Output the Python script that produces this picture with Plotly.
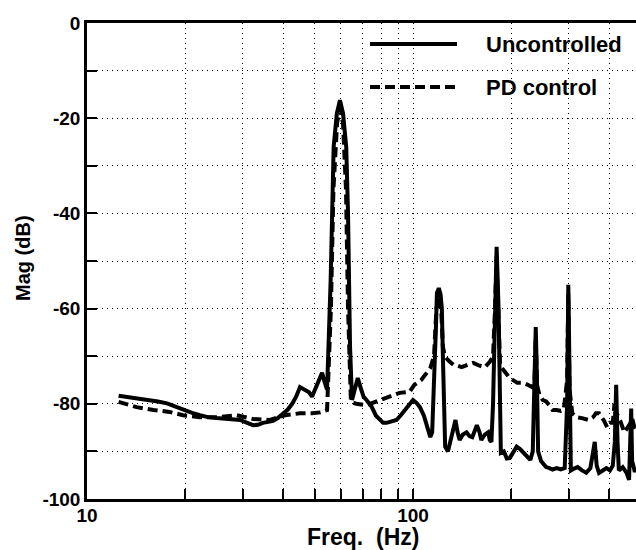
import plotly.graph_objects as go

# ---------------- data ----------------
freq_unc = [12.5, 13.5, 14.5, 15.6, 16.5, 17.6, 19.0, 20.0, 21.0, 22.2, 23.5, 25.0, 27.0, 29.5,
            31.0, 32.3, 33.5, 34.6, 36.0, 37.2, 38.5, 40.0, 41.3, 42.6, 43.8, 45.0, 46.5, 48.0,
            49.0, 50.5, 51.5, 52.6, 53.6, 54.5, 55.9, 56.3, 57.1, 58.4, 59.7, 61.0, 62.4, 63.2,
            63.7, 64.1, 65.0, 66.2, 67.7, 69.0, 70.5, 72.0, 74.5, 77.0, 79.0, 81.0, 83.0, 86.0,
            89.0, 92.0, 95.0, 97.6, 100.0, 102.5, 105.0, 108.0, 111.0, 113.0, 114.5, 115.5, 117.0,
            117.6, 118.4, 120.0, 121.5, 122.6, 123.5, 124.5, 125.5, 128.0, 131.0, 135.0, 137.0,
            139.0, 142.0, 146.0, 149.0, 152.0, 155.0, 157.0, 160.0, 162.0, 166.0, 170.0, 172.0,
            174.0, 176.0, 178.0, 180.5, 183.0, 185.0, 186.0, 190.0, 194.0, 198.0, 203.0, 208.0,
            213.0, 218.0, 224.0, 229.0, 233.0, 235.0, 238.0, 240.0, 242.0, 247.0, 252.0, 256.0,
            262.0, 268.0, 276.0, 284.0, 292.0, 297.0, 299.5, 302.0, 305.0, 312.0, 320.0, 330.0,
            340.0, 350.0, 356.0, 361.0, 366.0, 372.0, 382.0, 392.0, 402.0, 410.0, 416.0, 420.0,
            424.0, 428.0, 440.0, 452.0, 460.0, 464.0, 467.0, 470.0, 478.0, 490.0]
mag_unc = [-78.3, -78.6, -78.9, -79.2, -79.5, -79.9, -80.8, -81.3, -81.9, -82.4, -82.8, -83.0, -83.2, -83.4,
           -84.0, -84.5, -84.4, -84.0, -83.8, -83.6, -83.0, -82.0, -81.2, -80.0, -78.5, -76.5, -77.0, -77.6,
           -78.5, -76.5, -74.8, -73.5, -75.5, -77.0, -54.0, -40.0, -26.0, -19.0, -16.2, -19.0, -26.0, -40.0,
           -54.0, -68.0, -79.2, -77.0, -74.6, -76.5, -78.5, -79.2, -80.5, -82.5, -83.4, -84.0, -84.0, -83.6,
           -83.4, -82.3, -81.2, -80.3, -79.2, -79.8, -80.7, -82.5, -85.5, -87.0, -86.0, -80.0, -70.8,
           -63.9, -56.7, -55.7, -57.0, -60.0, -70.0, -80.0, -89.0, -90.0, -87.0, -83.4, -86.0,
           -87.6, -86.5, -86.0, -86.8, -87.0, -85.5, -84.5, -86.0, -87.6, -86.5, -86.0, -87.6,
           -88.0, -80.0, -60.0, -47.0, -60.0, -80.0, -90.3, -90.0, -91.5, -91.4, -90.0, -89.0,
           -89.5, -90.2, -91.2, -91.8, -90.0, -75.0, -63.9, -75.0, -90.0, -92.0, -92.6, -93.3,
           -93.5, -93.8, -93.5, -93.8, -93.5, -80.0, -55.0, -80.0, -94.0, -93.6, -93.3, -94.0,
           -94.5, -93.5, -91.0, -88.0, -93.0, -94.5, -94.0, -93.5, -94.0, -93.0, -88.0, -76.0,
           -88.0, -94.0, -93.3, -94.5, -96.0, -88.0, -81.0, -92.0, -94.0, -94.0]

freq_pd = [12.5, 14.2, 16.0, 17.9, 19.7, 22.2, 25.0, 28.8, 32.3, 36.4, 40.5, 45.0, 49.0, 52.0,
           54.5, 56.0, 57.0, 58.5, 59.7, 61.0, 62.3, 63.2, 64.5, 67.0, 72.0, 79.0, 86.7, 91.0,
           97.6, 101.0, 106.0, 110.0, 113.0, 116.0, 118.0, 120.0, 122.0, 123.5, 125.5, 129.0,
           133.0, 137.0, 141.0, 147.0, 153.0, 160.0, 166.0, 172.0, 176.0, 178.5, 180.5, 182.5,
           185.0, 190.0, 198.0, 209.0, 217.0, 225.0, 232.0, 236.0, 238.0, 240.0, 244.0, 250.0,
           256.0, 262.0, 268.0, 276.0, 284.0, 290.0, 297.0, 299.5, 302.0, 308.0, 317.0, 330.0,
           346.0, 357.0, 364.0, 372.0, 385.0, 394.0, 402.0, 410.0, 415.0, 418.0, 425.0, 432.0,
           438.0, 445.0, 455.0, 465.0, 470.0, 478.0, 490.0]
mag_pd = [-79.6, -80.7, -81.3, -81.7, -82.4, -82.8, -82.8, -82.4, -83.2, -83.4, -82.4, -82.0, -82.0, -81.8,
          -81.3, -60.0, -35.0, -21.0, -18.0, -21.0, -35.0, -60.0, -79.6, -80.0, -80.3, -79.2, -78.2, -77.7,
          -77.5, -76.0, -75.0, -73.5, -72.5, -70.0, -60.0, -57.5, -60.0, -68.0, -70.2, -71.0,
          -71.8, -72.0, -72.3, -71.8, -71.4, -72.0, -72.3, -71.2, -70.0, -60.0, -49.0, -60.0,
          -72.0, -73.0, -74.6, -75.6, -75.6, -76.0, -76.5, -75.0, -66.0, -76.0, -78.0, -79.2,
          -79.5, -80.3, -81.3, -81.3, -81.5, -81.3, -75.0, -57.0, -77.0, -82.0, -82.8, -83.0,
          -83.4, -82.8, -82.0, -82.0, -83.5, -84.9, -84.0, -84.0, -80.0, -83.0, -82.5, -83.5,
          -84.5, -86.0, -85.0, -84.0, -83.0, -85.0, -86.0]

series_names = ["Uncontrolled", "PD control"]
y_major = [0, -20, -40, -60, -80, -100]
y_major_text = ["0", "-20", "-40", "-60", "-80", "-100"]
y_minor = [-10, -30, -50, -70, -90]
x_major = [10, 100]
x_major_text = ["10", "100"]
x_minor = [20, 30, 40, 50, 60, 70, 80, 90, 200, 300, 400]

# ---------------- figure ----------------
W, H = 636, 550
L, R, T, B = 87, 0, 23, 51
pw, ph = W - L - R, H - T - B

def px(x):
    return (x - L) / pw

def py(y):
    return (H - B - y) / ph

LW = 4
fig = go.Figure()
fig.add_trace(go.Scatter(x=freq_unc, y=mag_unc, mode="lines", name=series_names[0],
                         line=dict(color="black", width=LW)))
fig.add_trace(go.Scatter(x=freq_pd, y=mag_pd, mode="lines", name=series_names[1],
                         line=dict(color="black", width=LW, dash="10px,5px")))

grid = dict(gridcolor="black", gridwidth=1, griddash="1px,4px")
fig.update_xaxes(type="log", range=[1, 1 + pw / 326.0],
                 tickvals=x_major, ticktext=x_major_text,
                 ticks="inside", ticklen=10, tickwidth=2, tickcolor="black",
                 showline=True, linewidth=2.5, linecolor="black", mirror=True,
                 showgrid=True, ticklabelstandoff=-3,
                 minor=dict(tickvals=x_minor, ticks="inside", ticklen=10, tickwidth=2,
                            tickcolor="black", showgrid=True, **grid),
                 **grid)
fig.update_yaxes(range=[-100, 0], tickvals=y_major, ticktext=y_major_text,
                 ticks="inside", ticklen=10, tickwidth=2, tickcolor="black",
                 showline=True, linewidth=2.5, linecolor="black", mirror=False,
                 zeroline=False, showgrid=True, ticklabelstandoff=0,
                 minor=dict(tickvals=y_minor, ticks="inside", ticklen=10, tickwidth=2,
                            tickcolor="black", showgrid=True, **grid),
                 **grid)

# legend drawn as a white box with sample lines
shapes = [
    dict(type="rect", xref="paper", yref="paper", x0=px(368), x1=1.0, y0=py(97), y1=py(25),
         fillcolor="white", line=dict(width=0), layer="between"),
    dict(type="line", xref="paper", yref="paper", x0=px(370), x1=px(457), y0=py(44), y1=py(44),
         line=dict(color="black", width=LW)),
    dict(type="line", xref="paper", yref="paper", x0=px(370), x1=px(457), y0=py(87), y1=py(87),
         line=dict(color="black", width=LW, dash="10px,5px")),
]
annotations = [
    dict(text=series_names[0], xref="paper", yref="paper", x=px(484), y=py(45),
         xanchor="left", yanchor="middle", showarrow=False, font=dict(size=22)),
    dict(text=series_names[1], xref="paper", yref="paper", x=px(484), y=py(88),
         xanchor="left", yanchor="middle", showarrow=False, font=dict(size=22)),
    dict(text="Freq.\u00a0 (Hz)", xref="paper", yref="paper", x=px(363), y=py(537),
         xanchor="center", yanchor="middle", showarrow=False, font=dict(size=23)),
    dict(text="Mag (dB)", xref="paper", yref="paper", x=px(23), y=py(258), textangle=-90,
         xanchor="center", yanchor="middle", showarrow=False, font=dict(size=20)),
]

fig.update_layout(width=W, height=H, margin=dict(l=L, r=R, t=T, b=B, pad=0),
                  plot_bgcolor="white", paper_bgcolor="white", showlegend=False,
                  font=dict(family="Liberation Sans, Arial, sans-serif", size=19,
                            color="black", weight="bold"),
                  shapes=shapes, annotations=annotations)

fig.write_html("out.html")
